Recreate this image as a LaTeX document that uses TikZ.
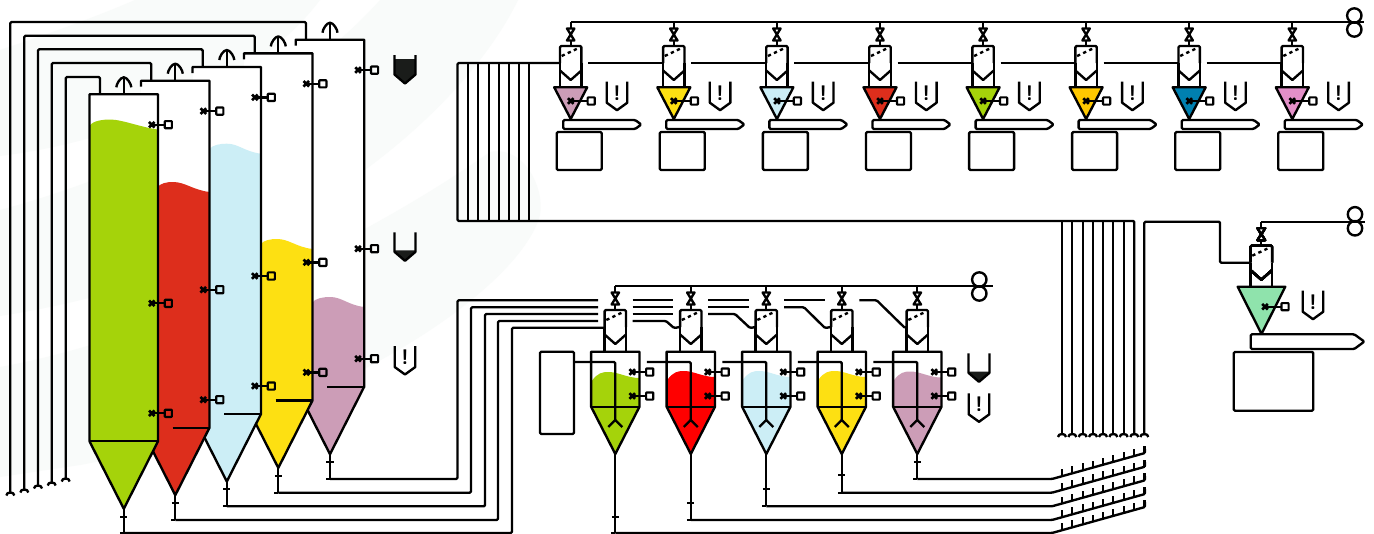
\documentclass[tikz,border=0pt]{standalone}
\usepackage{tikz}
\definecolor{swoosh}{HTML}{F9FBFA}
\definecolor{inkdark}{HTML}{1A1C1A}
\definecolor{grain}{HTML}{A5D30A}
\definecolor{brick}{HTML}{DD2E1C}
\definecolor{sky}{HTML}{CCEEF6}
\definecolor{maize}{HTML}{FDE012}
\definecolor{mauve}{HTML}{CC9DB7}
\definecolor{amber}{HTML}{FFC800}
\definecolor{petrol}{HTML}{0080B0}
\definecolor{orchid}{HTML}{E38FC8}
\definecolor{mint}{HTML}{8FE3AC}
\tikzset{
  pipe/.style={line width=1.35pt, line join=round, rounded corners=0.7pt},
  vessel/.style={line width=1.35pt, line join=round},
  sensbox/.style={line width=1.25pt, line join=round, rounded corners=0.4pt},
  xcross/.style={line width=1.5pt},
  alertmark/.style={inner sep=0pt, font=\sffamily\bfseries\fontsize{12}{12}\selectfont},
}
% level sensor: cross, line, small square
\newcommand{\levelsens}[3]{
  \draw[xcross] (#1-2.8,#2-2.8) -- (#1+2.8,#2+2.8) (#1-2.8,#2+2.8) -- (#1+2.8,#2-2.8);
  \draw[vessel] (#1,#2) -- (#1+#3-3.6,#2);
  \draw[sensbox] (#1+#3-3.6,#2-3.6) rectangle (#1+#3+3.6,#2+3.6);
}
% alert badge with its mark
\newcommand{\alertbadge}[3]{
  \draw[vessel] (#2-10.3,#3) -- (#2-10.3,#3+21) -- (#2,#3+28.5) -- (#2+10.3,#3+21) -- (#2+10.3,#3);
  \node[alertmark] (#1) at (#2,#3+11) {!};
}
% level icon, dark below the given height
\newcommand{\levelicon}[3]{
  \fill[inkdark] (#1-10.5,#3) -- (#1-10.5,#2+19.5) -- (#1,#2+28.5) -- (#1+10.5,#2+19.5) -- (#1+10.5,#3) -- cycle;
  \draw[vessel] (#1-10.5,#2) -- (#1-10.5,#2+19.5) -- (#1,#2+28.5) -- (#1+10.5,#2+19.5) -- (#1+10.5,#2);
}
% tall silo: left, top, colour, level start x, peak x, peak y, stub, bar x, tip name
\newcommand{\tallsilo}[9]{
  \fill[white] (#1,#2) rectangle (#1+68.5,#2+347);
  \fill[#3] (#4,#6+6) .. controls (#4+3,#6+1) and (#5-6,#6) .. (#5,#6)
    .. controls (#5+12,#6) and (#1+52,#6+8) .. (#1+68.5,#6+10) -- (#1+68.5,#2+347) -- (#1+34.3,#2+414.5) -- (#1,#2+347) -- cycle;
  \draw[vessel] (#1,#2+#7) -- (#1,#2) -- (#1+68.5,#2) -- (#1+68.5,#2+347) -- (#1+34.3,#2+414.5) -- (#1,#2+347);
  \draw[vessel] (#8,#2+347) -- (#1+68.5,#2+347);
  \draw[vessel] (#1+34.3,#2) -- (#1+34.3,#2-17);
  \draw[vessel] (#1+26.8,#2-7) .. controls (#1+26.8,#2-10) and (#1+30.8,#2-17) .. (#1+34.3,#2-17)
    .. controls (#1+37.8,#2-17) and (#1+41.8,#2-10) .. (#1+41.8,#2-7);
  \levelsens{#1+62.3}{#2+30.4}{16.5}
  \levelsens{#1+62.3}{#2+209}{16.5}
  \levelsens{#1+62.3}{#2+319}{16.5}
  \coordinate (#9) at (#1+34.3,#2+414.5);
}
% valve and filter head below a bus line
\newcommand{\filterhead}[3]{
  \draw[vessel] (#1,#2) -- (#1,#2+24);
  \draw[vessel, fill=white] (#1-3.7,#2+6.5) -- (#1+3.7,#2+6.5) -- (#1-3.7,#2+18.5) -- (#1+3.7,#2+18.5) -- cycle;
  \draw[pipe, fill=white] (#1-10.7,#2+41) -- (#1-10.7,#2+24) -- (#1+10.7,#2+24) -- (#1+10.7,#2+41);
  \draw[vessel] (#1-10.7,#2+48.5) -- (#1,#2+58) -- (#1+10.7,#2+48.5);
  \draw[vessel] (#1-10.7,#2+41) -- (#1-10.7,#2+65) (#1+10.7,#2+41) -- (#1+10.7,#2+65);
  \draw[vessel, dash pattern=on 1.9pt off 1.9pt] (#1-9,#2+34) -- (#1+9,#2+25.5);
  \coordinate (#3) at (#1-10.7,#2+41);
}
% top row: filter, hopper, sensor, belt, bin
\newcommand{\feedunit}[3]{
  \filterhead{#1}{22}{feed#3}
  \draw[vessel, fill=#2] (#1-16.5,87.3) -- (#1+16.5,87.3) -- (#1,119) -- cycle;
  \levelsens{#1}{101}{20.5}
  \alertbadge{alert#3}{#1+46.3}{81.7}
  \draw[pipe, fill=white] (#1-7.5,120) -- (#1+64.5,120) -- (#1+70.5,124.5) -- (#1+64.5,129) -- (#1-7.5,129) -- cycle;
  \draw[pipe] (#1-14,132) rectangle (#1+31,170);
}
% mixer silo of the middle row: centre, colour, peak y, name
\newcommand{\mixsilo}[4]{
  \filterhead{#1}{286}{mixfeed#4}
  \fill[white] (#1-24.2,351.7) rectangle (#1+24.2,406.7);
  \fill[#2] (#1-23.5,#3+9) .. controls (#1-18,#3+1) and (#1-13,#3) .. (#1-7,#3)
    .. controls (#1+3,#3) and (#1+12,#3+6) .. (#1+24.2,#3+6) -- (#1+24.2,406.7) -- (#1,454) -- (#1-24.2,406.7) -- cycle;
  \draw[vessel] (#1-24.2,406.7) -- (#1-24.2,351.7) -- (#1+24.2,351.7) -- (#1+24.2,406.7) -- (#1,454) -- cycle;
  \draw[vessel] (#1-24.2,406.7) -- (#1+24.2,406.7);
  \levelsens{#1+17}{372}{17.4}
  \levelsens{#1+17}{396}{17.4}
  \draw[vessel] (#1-7,427) -- (#1,420) -- (#1+7,427);
  \coordinate (mixtip#4) at (#1,454);
}
% stem below a tip: tick and short end
\newcommand{\tipstem}[3]{
  \draw[vessel] (#1) -- (#1|-0,#3);
  \draw[vessel] ([xshift=-2pt]#1|-0,#2) -- ([xshift=2pt]#1|-0,#2);
  \draw[vessel] ([xshift=-2.2pt]#1|-0,#3) -- (#1|-0,#3);
}
% ring pair on a bus end
\newcommand{\busrings}[2]{
  \draw[vessel] (#1,#2-7) circle[radius=7.2];
  \draw[vessel] (#1,#2+7) circle[radius=7.2];
}
% small arch at a free pipe end
\newcommand{\pipecap}[2]{
  \draw[vessel] (#1-4,#2+3.5) .. controls (#1-4,#2-0.5) and (#1+4,#2-0.5) .. (#1+4,#2+3.5);
}
% rising line with a tick at each column
\newcommand{\rakeline}[1]{
  \foreach \cx in {1062,1072.3,1082.7,1093,1103,1113.3,1123.7,1134.3,1144.6}
    \draw[vessel] (\cx,{#1-26*(\cx-1052)/93}) -- (\cx,{#1-26*(\cx-1052)/93-7});
}
\begin{document}
\begin{tikzpicture}[x=0.02cm,y=-0.02cm]
  \useasboundingbox (0,0) rectangle (1374,534);
  \fill[white] (0,0) rectangle (1374,534);
  % Background swooshes
  \fill[swoosh] (0,50) .. controls (60,30) and (100,15) .. (135,0) -- (320,0) .. controls (260,80) and (130,140) .. (0,156) -- cycle;
  \fill[swoosh] (0,210) .. controls (150,170) and (300,90) .. (380,0) -- (518,0) .. controls (470,100) and (300,270) .. (0,316) -- cycle;
  \fill[swoosh] (0,367) .. controls (150,340) and (350,250) .. (490,152) .. controls (525,145) and (545,190) .. (540,215)
    .. controls (520,290) and (330,420) .. (80,465) -- (0,477) -- cycle;
  % Tall silos, back to front
  \tallsilo{295.7}{39.7}{mauve}{312}{330}{297}{6}{327}{silotip5}
  \tallsilo{244}{53.4}{maize}{260}{277}{239}{6}{275.5}{silotip4}
  \tallsilo{192.5}{67}{sky}{209}{226.7}{143.7}{6}{224}{silotip3}
  \tallsilo{141}{80.7}{brick}{157}{173}{182}{6}{172.5}{silotip2}
  \tallsilo{89.5}{94.3}{grain}{90}{110}{119.5}{347}{89.5}{silotip1}
  % Silo vent lines
  \draw[pipe] (100,94.3) -- (100,77) -- (65.7,77) -- (65.7,478);
  \draw[pipe] (151.3,80.7) -- (151.3,63) -- (51.7,63) -- (51.7,482);
  \draw[pipe] (202.7,67) -- (202.7,49.3) -- (38,49.3) -- (38,485);
  \draw[pipe] (254.7,53.4) -- (254.7,35.7) -- (24.3,35.7) -- (24.3,489);
  \draw[pipe] (306,39.7) -- (306,22) -- (10.3,22) -- (10.3,492);
  \pipecap{65.7}{478}
  \pipecap{51.7}{482}
  \pipecap{38}{485}
  \pipecap{24.3}{489}
  \pipecap{10.3}{492}
  % Level icons of the silos
  \levelicon{405}{55}{59}
  \levelicon{405}{232.3}{250.3}
  \alertbadge{alertsilo}{405}{346}
  % Silo outlets
  \tipstem{silotip5}{462}{479}
  \tipstem{silotip4}{475.7}{492.7}
  \tipstem{silotip3}{489.3}{506.3}
  \tipstem{silotip2}{503}{520}
  \tipstem{silotip1}{516.7}{533}
  \draw[pipe] (silotip5|-0,479) -- (457.5,479) -- (457.5,300.3) -- (598,300.3);
  \draw[pipe] (silotip4|-0,492.7) -- (471,492.7) -- (471,307.3) -- (598,307.3);
  \draw[pipe] (silotip3|-0,506.3) -- (485,506.3) -- (485,314) -- (598,314);
  \draw[pipe] (silotip2|-0,520) -- (498,520) -- (498,321) -- (598,321);
  \draw[pipe] (silotip1|-0,533) -- (512,533) -- (512,327.7) -- (604.6,327.7);
  % Middle row
  \draw[vessel] (615.3,286) -- (993,286);
  \busrings{979.3}{286.5}
  \mixsilo{615.3}{grain}{372}{1}
  \mixsilo{690.8}{red}{371}{2}
  \mixsilo{766.3}{sky}{371}{3}
  \mixsilo{841.8}{maize}{371}{4}
  \mixsilo{917.3}{mauve}{371.5}{5}
  % Scale box and inner pipes
  \draw[pipe, fill=white] (540,351.7) rectangle (574,434);
  \draw[pipe] (574,362) -- (615.3,362) -- (615.3,420);
  \draw[pipe] (646.8,362) -- (690.8,362) -- (690.8,420);
  \draw[pipe] (722.3,362) -- (766.3,362) -- (766.3,420);
  \draw[pipe] (797.8,362) -- (841.8,362) -- (841.8,420);
  \draw[pipe] (873.3,362) -- (917.3,362) -- (917.3,420);
  % Lines past the filters
  \draw[pipe] (632.7,300.3) -- (673.3,300.3) (708,300.3) -- (749,300.3) (784,300.3) -- (824.7,300.3);
  \draw[pipe] (632.7,307.3) -- (673.3,307.3) (708,307.3) -- (749,307.3);
  \draw[pipe] (632.7,314) -- (673.3,314);
  \draw[pipe] (632.7,321) -- (666,321) -- (674,328) -- (mixfeed2);
  \draw[pipe] (708,314) -- (735,314) -- (750,328) -- (mixfeed3);
  \draw[pipe] (784,307.3) -- (804,307.3) -- (825,328) -- (mixfeed4);
  \draw[pipe] (859.3,300.3) -- (876.7,300.3) -- (905,328) -- (mixfeed5);
  \levelicon{979}{353.3}{371.7}
  \alertbadge{alertmix}{979}{393.3}
  % Outlets of the middle row
  \tipstem{mixtip5}{462}{479}
  \tipstem{mixtip4}{475.3}{492.7}
  \tipstem{mixtip3}{489.3}{506.3}
  \tipstem{mixtip2}{503}{520}
  \tipstem{mixtip1}{516.7}{533}
  \draw[pipe] (mixtip5|-0,479) -- (1052,479) -- (1145,453) -- (1145,449);
  \draw[pipe] (mixtip4|-0,492.7) -- (1052,492.7) -- (1145,466.7) -- (1145,462);
  \draw[pipe] (mixtip3|-0,506.3) -- (1052,506.3) -- (1145,480.3) -- (1145,476);
  \draw[pipe] (mixtip2|-0,520) -- (1052,520) -- (1145,494) -- (1145,489);
  \draw[pipe] (mixtip1|-0,533) -- (1052,533) -- (1145,507) -- (1145,502);
  \rakeline{479}
  \rakeline{492.7}
  \rakeline{506.3}
  \rakeline{520}
  \rakeline{533}
  % Top row
  \draw[vessel] (570.7,22) -- (1364,22);
  \busrings{1354.3}{22.5}
  \feedunit{570.7}{mauve}{1}
  \feedunit{673.8}{maize}{2}
  \feedunit{776.9}{sky}{3}
  \feedunit{880}{brick}{4}
  \feedunit{983.1}{grain}{5}
  \feedunit{1086.1}{amber}{6}
  \feedunit{1189.2}{petrol}{7}
  \feedunit{1292.3}{orchid}{8}
  % Collecting lines of the top row
  \draw[pipe] (588.2,63) -- (feed2);
  \draw[pipe] (691.3,63) -- (feed3);
  \draw[pipe] (794.4,63) -- (feed4);
  \draw[pipe] (897.5,63) -- (feed5);
  \draw[pipe] (1000.6,63) -- (feed6);
  \draw[pipe] (1103.6,63) -- (feed7);
  \draw[pipe] (1206.7,63) -- (feed8);
  \draw[pipe] (feed1) -- (457.5,63) -- (457.5,221) -- (1134.3,221) -- (1134.3,435);
  \foreach \cx in {468,478,488.7,498.7,509,519,529.3}
    \draw[vessel] (\cx,63) -- (\cx,221);
  \foreach \cx in {1062,1072.3,1082.7,1093,1103,1113.3,1123.7}
    \draw[vessel] (\cx,221) -- (\cx,435);
  \foreach \cx in {1062,1072.3,1082.7,1093,1103,1113.3,1123.7,1134.3,1144.3}
    \pipecap{\cx}{433.5}
  % Right unit
  \filterhead{1261.3}{221.7}{feed9}
  \draw[vessel] (1261.3,221.7) -- (1365,221.7);
  \busrings{1355}{221.3}
  \draw[pipe] (1144.3,435) -- (1144.3,221.7) -- (1220,221.7) -- (1220,262.7) -- (feed9);
  \draw[vessel, fill=mint] (1237.7,286.7) -- (1285.3,286.7) -- (1261.5,334) -- cycle;
  \levelsens{1265}{306.7}{20}
  \alertbadge{alertright}{1313}{290.7}
  \draw[pipe, fill=white] (1250.7,334.3) -- (1354.3,334.3) -- (1364.3,341.6) -- (1354.3,349) -- (1250.7,349) -- cycle;
  \draw[pipe] (1233.7,352) rectangle (1313.3,410.7);
\end{tikzpicture}
\end{document}
